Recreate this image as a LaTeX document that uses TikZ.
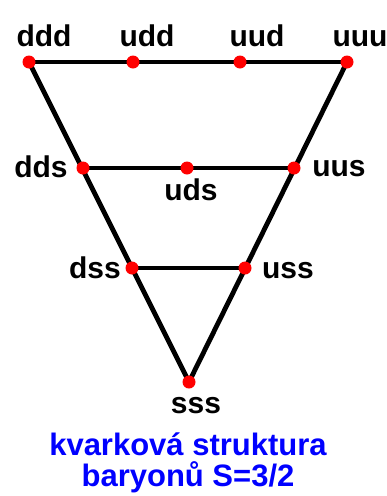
\documentclass[tikz,border=0pt]{standalone}
\usepackage{fontspec}
\setmainfont{Liberation Sans}
\begin{document}
\begin{tikzpicture}[x=1pt,y=-1pt,
  dot/.style={circle,fill=red,inner sep=0pt,minimum size=13pt},
  lbl/.style={font=\fontsize{30}{32}\selectfont\bfseries,inner sep=0pt,anchor=base},
  captxt/.style={font=\fontsize{31}{35}\selectfont\bfseries,text=blue,inner sep=0pt,anchor=base},
  linkline/.style={line width=4.8pt}]
\useasboundingbox (0,0) rectangle (387,496);
\coordinate (ddd) at (29,62);
\coordinate (udd) at (133,62);
\coordinate (uud) at (240,62);
\coordinate (uuu) at (347,62);
\coordinate (dds) at (83,168);
\coordinate (uds) at (187,168);
\coordinate (uus) at (294,168);
\coordinate (dss) at (132,268);
\coordinate (uss) at (245,268);
\coordinate (sss) at (189,382);
\draw[linkline] (ddd) -- (uuu);
\draw[linkline] (dds) -- (uus);
\draw[linkline] (dss) -- (uss);
\draw[linkline] (ddd) -- (sss) -- (uuu);
\foreach \n in {ddd,udd,uud,uuu,dds,uds,uus,dss,uss,sss}
  \node[dot] (d\n) at (\n) {};
\node[lbl] (lddd) at (44,46) {ddd};
\node[lbl] (ludd) at (147,46) {udd};
\node[lbl] (luud) at (257,46) {uud};
\node[lbl] (luuu) at (360,46) {uuu};
\node[lbl] (ldds) at (41,177) {dds};
\node[lbl] (luds) at (191,200) {uds};
\node[lbl] (luus) at (339,176) {uus};
\node[lbl] (ldss) at (95,278) {dss};
\node[lbl] (luss) at (288,278) {uss};
\node[lbl] (lsss) at (196,413) {sss};
\node[captxt] (title1) at (188,455) {kvarková struktura};
\node[captxt] (title2) at (188,486) {baryonů S=3/2};
\end{tikzpicture}
\end{document}
